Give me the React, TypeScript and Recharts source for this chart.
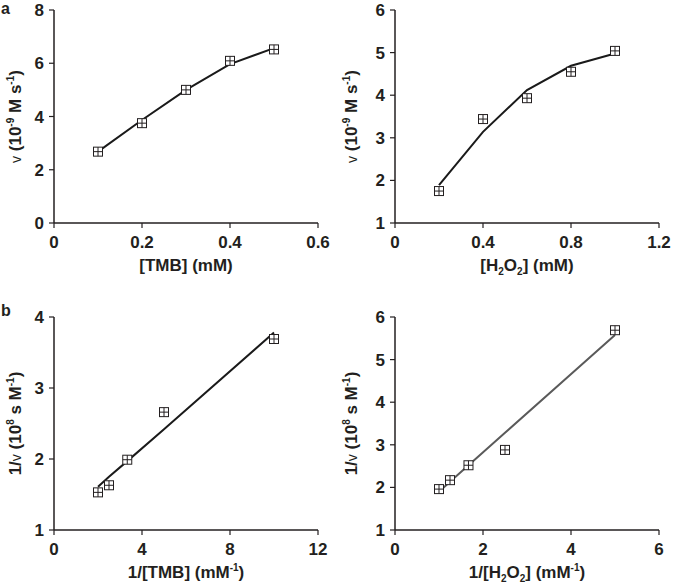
import React from 'react'
import { ScatterChart, Scatter, XAxis, YAxis } from 'recharts'

// panel a: initial rate vs substrate concentration
const TMB_CONC = [0.1, 0.2, 0.3, 0.4, 0.5]
const TMB_RATE = [2.68, 3.75, 5.0, 6.09, 6.52]
const TMB_FIT = [2.68, 3.87, 5.0, 5.97, 6.57]

const H2O2_CONC = [0.2, 0.4, 0.6, 0.8, 1.0]
const H2O2_RATE = [1.75, 3.44, 3.93, 4.55, 5.04]
const H2O2_FIT = [1.89, 3.14, 4.12, 4.69, 4.98]

// panel b: double reciprocal (Lineweaver-Burk)
const INV_TMB = [2, 2.5, 3.33, 5, 10]
const INV_TMB_RATE = [1.53, 1.63, 1.99, 2.66, 3.69]
const INV_TMB_FIT = [1.61, 1.75, 1.97, 2.42, 3.78]

const INV_H2O2 = [1, 1.25, 1.67, 2.5, 5]
const INV_H2O2_RATE = [1.96, 2.17, 2.52, 2.88, 5.69]
const INV_H2O2_FIT = [1.9, 2.13, 2.52, 3.28, 5.58]

const TICKS_TMB = [0, 0.2, 0.4, 0.6]
const TICKS_H2O2 = [0, 0.4, 0.8, 1.2]
const TICKS_INV_TMB = [0, 4, 8, 12]
const TICKS_INV_H2O2 = [0, 2, 4, 6]
const TICKS_RATE_TMB = [0, 2, 4, 6, 8]
const TICKS_RATE_H2O2 = [1, 2, 3, 4, 5, 6]
const TICKS_INV_RATE_TMB = [1, 2, 3, 4]
const TICKS_INV_RATE_H2O2 = [1, 2, 3, 4, 5, 6]

const INK = '#231f20'
const FONT = '"Liberation Sans", Arial, sans-serif'

type Part = { t: string; s?: 'sup' | 'sub' | 'nu' }

const Y_RATE: Part[] = [{ t: 'v', s: 'nu' }, { t: ' (10' }, { t: '-9', s: 'sup' }, { t: ' M s' }, { t: '-1', s: 'sup' }, { t: ')' }]
const Y_INV: Part[] = [{ t: '1/' }, { t: 'v', s: 'nu' }, { t: ' (10' }, { t: '8', s: 'sup' }, { t: ' s M' }, { t: '-1', s: 'sup' }, { t: ')' }]
const X_TMB: Part[] = [{ t: '[TMB] (mM)' }]
const X_H2O2: Part[] = [{ t: '[H' }, { t: '2', s: 'sub' }, { t: 'O' }, { t: '2', s: 'sub' }, { t: '] (mM)' }]
const X_INV_TMB: Part[] = [{ t: '1/[TMB] (mM' }, { t: '-1', s: 'sup' }, { t: ')' }]
const X_INV_H2O2: Part[] = [{ t: '1/[H' }, { t: '2', s: 'sub' }, { t: 'O' }, { t: '2', s: 'sub' }, { t: '] (mM' }, { t: '-1', s: 'sup' }, { t: ')' }]

function renderParts(parts: Part[]) {
  let off = 0
  return parts.map((p, i) => {
    let target = 0
    if (p.s === 'sup') target = -7
    if (p.s === 'sub') target = 4
    const dy = target - off
    off = target
    const small = p.s === 'sup' || p.s === 'sub'
    return (
      <tspan
        key={i}
        dy={dy}
        fontSize={p.s === 'nu' ? 14 : small ? 10 : 17}
        fontWeight={p.s === 'nu' ? 'normal' : 'bold'}
      >
        {p.t}
      </tspan>
    )
  })
}

function XTitle({ viewBox, parts }: any) {
  const cx = viewBox.x + viewBox.width / 2
  const y = viewBox.y + 48
  return (
    <text x={cx} y={y} textAnchor="middle" fill={INK} fontFamily={FONT} fontWeight="bold" fontSize={17}>
      {renderParts(parts)}
    </text>
  )
}

function YTitle({ viewBox, parts, dx }: any) {
  const cx = viewBox.x + dx
  const cy = viewBox.y + viewBox.height / 2
  return (
    <text
      x={cx}
      y={cy}
      transform={`rotate(-90 ${cx} ${cy})`}
      textAnchor="middle"
      fill={INK}
      fontFamily={FONT}
      fontWeight="bold"
      fontSize={17}
    >
      {renderParts(parts)}
    </text>
  )
}

function BoxCross({ cx, cy }: any) {
  if (cx == null || cy == null) return <g />
  const h = 4.5
  return (
    <g stroke={INK} strokeWidth={1} fill="#fff">
      <rect x={cx - h} y={cy - h} width={h * 2} height={h * 2} />
      <line x1={cx - h} y1={cy} x2={cx + h} y2={cy} />
      <line x1={cx} y1={cy - h} x2={cx} y2={cy + h} />
    </g>
  )
}

const toPts = (xs: number[], ys: number[]) => xs.map((x, i) => ({ x, y: ys[i] }))

interface PanelProps {
  left: number
  top: number
  width: number
  height: number
  margin: { top: number; right: number; bottom: number; left: number }
  yWidth: number
  yLabelDx: number
  xs: number[]
  ys: number[]
  fit: number[]
  xTicks: number[]
  yTicks: number[]
  xLabel: Part[]
  yLabel: Part[]
  lineColour: string
}

function Panel(p: PanelProps) {
  const tick = { fill: INK, fontSize: 17, fontWeight: 'bold', fontFamily: FONT }
  const axisLine = { stroke: INK, strokeWidth: 1.5 }
  return (
    <div style={{ position: 'absolute', left: p.left, top: p.top }}>
      <ScatterChart width={p.width} height={p.height} margin={p.margin}>
        <XAxis
          type="number"
          dataKey="x"
          domain={[p.xTicks[0], p.xTicks[p.xTicks.length - 1]]}
          ticks={p.xTicks}
          tick={tick}
          axisLine={axisLine}
          tickLine={{ stroke: INK, strokeWidth: 1.2 }}
          tickSize={5}
          tickMargin={8}
          height={30}
          interval={0}
          label={{ content: (lp: any) => <XTitle {...lp} parts={p.xLabel} /> }}
        />
        <YAxis
          type="number"
          dataKey="y"
          domain={[p.yTicks[0], p.yTicks[p.yTicks.length - 1]]}
          ticks={p.yTicks}
          tick={tick}
          axisLine={axisLine}
          tickLine={{ stroke: INK, strokeWidth: 1.2 }}
          tickSize={5}
          tickMargin={5}
          width={p.yWidth}
          interval={0}
          label={{ content: (lp: any) => <YTitle {...lp} parts={p.yLabel} dx={p.yLabelDx} /> }}
        />
        <Scatter
          data={toPts(p.xs, p.fit)}
          line={{ stroke: p.lineColour, strokeWidth: 2 }}
          lineJointType="linear"
          shape={() => <g />}
          isAnimationActive={false}
        />
        <Scatter data={toPts(p.xs, p.ys)} shape={(s: any) => <BoxCross {...s} />} isAnimationActive={false} />
      </ScatterChart>
    </div>
  )
}

export default function App() {
  const letter: React.CSSProperties = {
    position: 'absolute',
    fontFamily: FONT,
    fontWeight: 'bold',
    fontSize: 16,
    color: INK,
    lineHeight: 'normal',
  }
  return (
    <div style={{ position: 'absolute', left: 0, top: 0, width: 673, height: 585, background: '#fff' }}>
      <div style={{ ...letter, left: 1, top: 0 }}>a</div>
      <div style={{ ...letter, left: 1, top: 302 }}>b</div>
      <Panel
        left={0} top={0} width={330} height={290}
        margin={{ top: 10, right: 12, bottom: 37, left: 0 }}
        yWidth={54} yLabelDx={21}
        xs={TMB_CONC} ys={TMB_RATE} fit={TMB_FIT}
        xTicks={TICKS_TMB} yTicks={TICKS_RATE_TMB}
        xLabel={X_TMB} yLabel={Y_RATE} lineColour="#1a1a1a"
      />
      <Panel
        left={330} top={0} width={343} height={290}
        margin={{ top: 10, right: 14, bottom: 37, left: 0 }}
        yWidth={65} yLabelDx={27}
        xs={H2O2_CONC} ys={H2O2_RATE} fit={H2O2_FIT}
        xTicks={TICKS_H2O2} yTicks={TICKS_RATE_H2O2}
        xLabel={X_H2O2} yLabel={Y_RATE} lineColour="#1a1a1a"
      />
      <Panel
        left={0} top={290} width={330} height={295}
        margin={{ top: 27, right: 12, bottom: 25, left: 0 }}
        yWidth={54} yLabelDx={21}
        xs={INV_TMB} ys={INV_TMB_RATE} fit={INV_TMB_FIT}
        xTicks={TICKS_INV_TMB} yTicks={TICKS_INV_RATE_TMB}
        xLabel={X_INV_TMB} yLabel={Y_INV} lineColour="#1a1a1a"
      />
      <Panel
        left={330} top={290} width={343} height={295}
        margin={{ top: 27, right: 14, bottom: 25, left: 0 }}
        yWidth={65} yLabelDx={27}
        xs={INV_H2O2} ys={INV_H2O2_RATE} fit={INV_H2O2_FIT}
        xTicks={TICKS_INV_H2O2} yTicks={TICKS_INV_RATE_H2O2}
        xLabel={X_INV_H2O2} yLabel={Y_INV} lineColour="#5a5a5a"
      />
    </div>
  )
}
